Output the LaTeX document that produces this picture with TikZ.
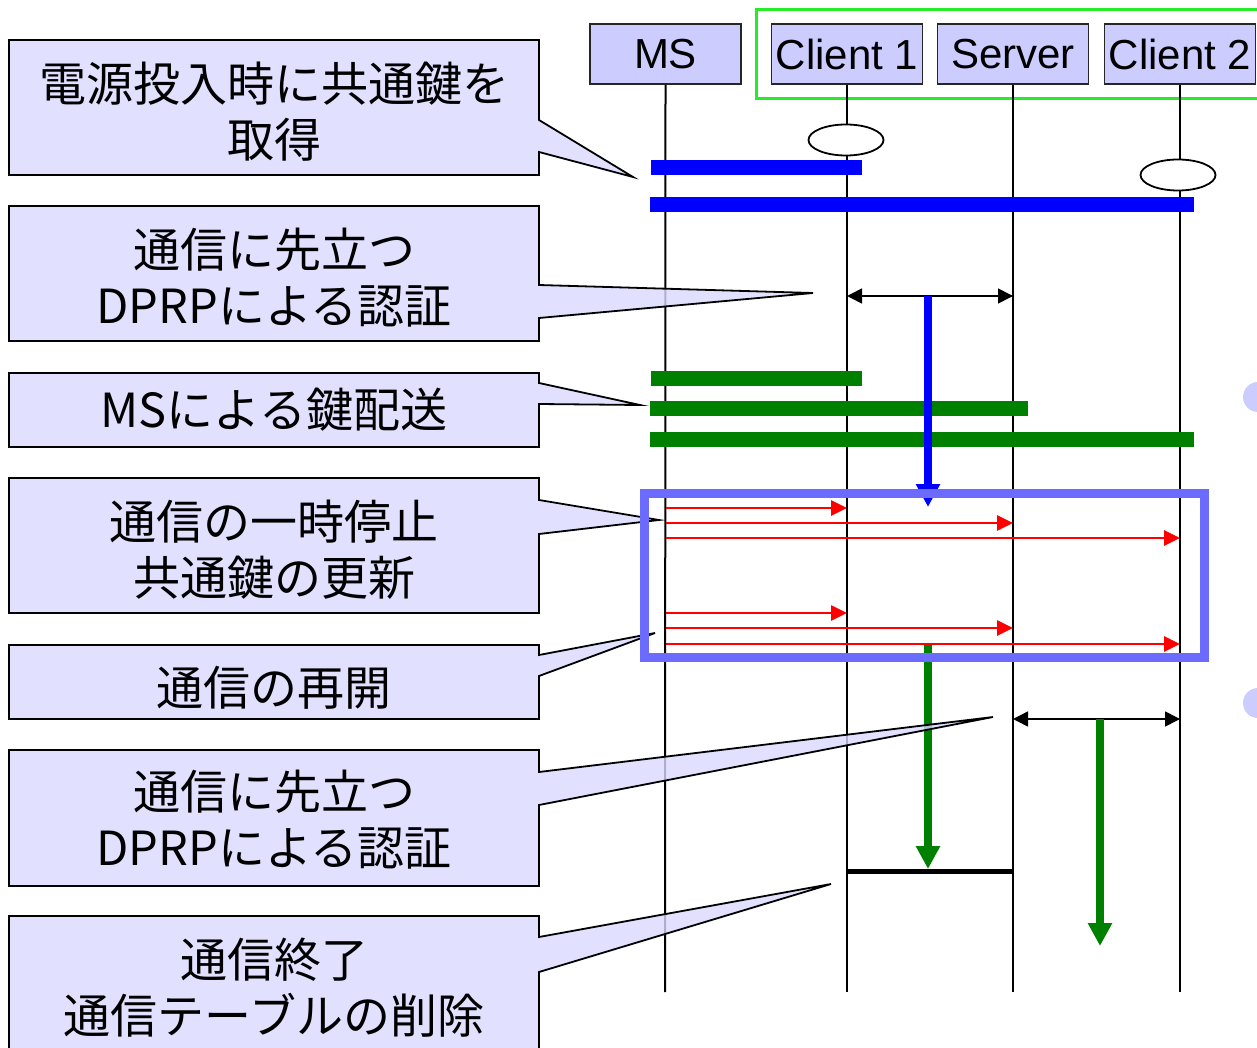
\documentclass[tikz,border=0pt]{standalone}
\usepackage{fontspec}
\setmainfont{Liberation Sans}
\newfontfamily\jpfont{Noto Sans CJK JP}
\usetikzlibrary{arrows.meta,shapes.geometric}

\definecolor{hdrfill}{RGB}{204,204,255}
\definecolor{notefill}{RGB}{218,218,255}
\definecolor{keygreen}{RGB}{0,128,0}
\definecolor{framegreen}{RGB}{40,235,40}
\definecolor{pauseframe}{RGB}{107,107,255}

\tikzset{
  hdr/.style={draw=black!85, line width=1.8pt, fill=hdrfill, inner sep=0pt,
    minimum width=151pt, minimum height=60pt,
    font=\fontsize{42}{48}\selectfont},
  lifeline/.style={line width=2pt, black},
  token/.style={ellipse, draw, line width=1.8pt, fill=white, inner sep=0pt,
    minimum width=75pt, minimum height=31pt},
  keybar/.style={line width=15pt},
  authspan/.style={line width=1.6pt, {Triangle[length=15pt,width=15pt]}-{Triangle[length=15pt,width=15pt]}},
  flow/.style={line width=7.5pt, -{Triangle[length=23pt,width=23pt]}},
  msg/.style={red, line width=2.6pt, -{Triangle[length=16pt,width=15pt]}},
  note/.style={draw=black, line width=1.8pt, fill=notefill, fill opacity=0.8, line join=miter},
  notetext/.style={align=center, inner sep=0pt, font=\jpfont\fontsize{47}{56}\selectfont}
}

\begin{document}
\begin{tikzpicture}[x=1pt, y=-1pt]
\useasboundingbox (0,0) rectangle (1257,1048);
\clip (0,0) rectangle (1257,1048);

% group frame around the communicating parties
\draw[framegreen, line width=3pt] (756,10) rectangle (1265,99);

% participants
\node[hdr] (ms)  at (665.5,54) {MS};
\node[hdr] (cl1) at (847,54)   {Client 1};
\node[hdr] (srv) at (1013,54)  {Server};
\node[hdr] (cl2) at (1180,54)  {Client 2};

% lifeline ends
\coordinate (msend)  at (665,992);
\coordinate (cl1end) at (847,992);
\coordinate (srvend) at (1013,992);
\coordinate (cl2end) at (1180,992);

\draw[lifeline] (ms.south)  -- (msend);
\draw[lifeline] (cl1.south) -- (cl1end);
\draw[lifeline] (srv.south) -- (srvend);
\draw[lifeline] (cl2.south) -- (cl2end);

% power-on of the clients
\node[token] (on1) at (846,140) {};
\node[token] (on2) at (1178,175) {};

% common key obtained at power-on
\draw[keybar, blue] (651,167.5) -- (862,167.5);
\draw[keybar, blue] (650,204.5) -- (1194,204.5);

% key distribution by MS
\draw[keybar, keygreen] (651,378.5) -- (862,378.5);
\draw[keybar, keygreen] (650,408.5) -- (1028,408.5);
\draw[keybar, keygreen] (650,439.5) -- (1194,439.5);

% DPRP authentication before communication
\draw[authspan] (cl1.south |- 0,296) coordinate (a1l) -- (srv.south |- 0,296) coordinate (a1r);
\coordinate (a1m) at (928,296);
\coordinate (a1e) at (928,507);
\draw[flow, blue] (a1m) -- (a1e);

\draw[authspan] (srv.south |- 0,719) coordinate (a2l) -- (cl2.south |- 0,719) coordinate (a2r);
\coordinate (a2m) at (1100,719);
\coordinate (a2e) at (1100,946);
\draw[flow, keygreen] (a2m) -- (a2e);

% resumed communication and its end
\coordinate (r1s) at (928,645);
\coordinate (r1e) at (928,869);
\draw[flow, keygreen] (r1s) -- (r1e);
\draw[line width=5pt] (cl1.south |- 0,871) coordinate (endl) -- (srv.south |- 0,871) coordinate (endr);

% side markers
\fill[hdrfill] (1258,397) circle (15);
\fill[hdrfill] (1258,703) circle (15);

% callouts
\draw[note] (9,40) -- (539,40) -- (539,120) -- (633,177) -- (539,152) -- (539,175) -- (9,175) -- cycle;
\node[notetext] (n1) at (274,112) {電源投入時に共通鍵を\\取得};

\draw[note] (9,206) -- (539,206) -- (539,285) -- (813,293) -- (539,318) -- (539,341) -- (9,341) -- cycle;
\node[notetext] (n2) at (274,278) {通信に先立つ\\DPRPによる認証};

\draw[note] (9,373) -- (539,373) -- (539,383) -- (640,405) -- (539,404) -- (539,447) -- (9,447) -- cycle;
\node[notetext] (n3) at (274,410) {MSによる鍵配送};

\draw[note] (9,478) -- (539,478) -- (539,500) -- (659,520) -- (539,534) -- (539,613) -- (9,613) -- cycle;
\node[notetext] (n4) at (274,550) {通信の一時停止\\共通鍵の更新};

\draw[note] (9,645) -- (539,645) -- (539,655) -- (655,633) -- (539,676) -- (539,719) -- (9,719) -- cycle;
\node[notetext] (n5) at (274,688) {通信の再開};

\draw[note] (9,750) -- (539,750) -- (539,772) -- (993,717) -- (539,805) -- (539,886) -- (9,886) -- cycle;
\node[notetext] (n6) at (274,820) {通信に先立つ\\DPRPによる認証};

\draw[note] (9,916) -- (539,916) -- (539,937) -- (831,884) -- (539,972) -- (539,1070) -- (9,1070) -- cycle;
\node[notetext] (n7) at (274,988) {通信終了\\通信テーブルの削除};

% pause and key update phase
\draw[pauseframe, line width=9.5pt] (644.5,493.5) rectangle (1204.5,657.5);

\draw[msg] (ms.south |- 0,508) -- (cl1.south |- 0,508);
\draw[msg] (ms.south |- 0,523) -- (srv.south |- 0,523);
\draw[msg] (ms.south |- 0,538) -- (cl2.south |- 0,538);
\draw[msg] (ms.south |- 0,613) -- (cl1.south |- 0,613);
\draw[msg] (ms.south |- 0,628) -- (srv.south |- 0,628);
\draw[msg] (ms.south |- 0,644) -- (cl2.south |- 0,644);
\end{tikzpicture}
\end{document}
